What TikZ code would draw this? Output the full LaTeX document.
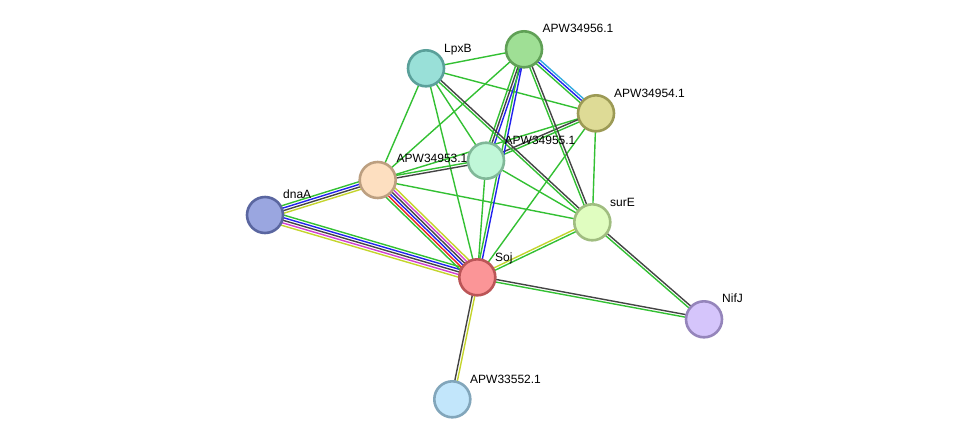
\documentclass[tikz,border=0pt]{standalone}
\usepackage{fontspec}
\setmainfont{Liberation Sans}
\usetikzlibrary{calc,backgrounds}
\definecolor{eg}{HTML}{33C033}
\definecolor{eb}{HTML}{2222EE}
\definecolor{ek}{HTML}{444444}
\definecolor{ey}{HTML}{C4D42C}
\definecolor{em}{HTML}{D040D0}
\definecolor{er}{HTML}{EE2222}
\definecolor{el}{HTML}{33AAE0}
\tikzset{
  prot/.style={circle, minimum size=36pt, inner sep=0pt, line width=2.6pt},
  lbl/.style={anchor=base west, inner sep=0pt, font=\fontsize{12}{14}\selectfont, text=black},
  edge/.style={line width=1.4pt}
}
\newcommand{\medge}[3]{%
  \foreach \c [count=\i] in {#3} {\xdef\mecount{\i}}%
  \foreach \c [count=\i] in {#3} {%
    \pgfmathsetmacro\off{((\mecount+1)/2-\i)*2.6}%
    \draw[edge, draw=\c] ($(#1.center)!\off pt!90:(#2.center)$) -- ($(#2.center)!\off pt!-90:(#1.center)$);
  }%
}
\begin{document}
\begin{tikzpicture}[x=1pt,y=-1pt]
\useasboundingbox (0,0) rectangle (976,445);
% nodes
\node[prot, fill={rgb,255:red,159;green,223;blue,149}, draw={rgb,255:red,96;green,160;blue,86}] (p56) at (524,49.3) {};
\node[prot, fill={rgb,255:red,153;green,224;blue,216}, draw={rgb,255:red,90;green,160;blue,154}] (lpxb) at (426,68.3) {};
\node[prot, fill={rgb,255:red,222;green,219;blue,150}, draw={rgb,255:red,156;green,154;blue,85}] (p54) at (596,113.3) {};
\node[prot, fill={rgb,255:red,192;green,247;blue,216}, draw={rgb,255:red,128;green,184;blue,152}] (p55) at (486,160.7) {};
\node[prot, fill={rgb,255:red,253;green,223;blue,192}, draw={rgb,255:red,188;green,159;blue,128}] (p53) at (377.7,180) {};
\node[prot, fill={rgb,255:red,154;green,166;blue,224}, draw={rgb,255:red,90;green,102;blue,160}] (dnaa) at (265,215) {};
\node[prot, fill={rgb,255:red,224;green,253;blue,192}, draw={rgb,255:red,160;green,189;blue,128}] (sure) at (592.3,222.3) {};
\node[prot, fill={rgb,255:red,251;green,149;blue,151}, draw={rgb,255:red,187;green,85;blue,87}] (soj) at (477.3,277.3) {};
\node[prot, fill={rgb,255:red,213;green,197;blue,251}, draw={rgb,255:red,149;green,133;blue,187}] (nifj) at (704,319.3) {};
\node[prot, fill={rgb,255:red,194;green,230;blue,251}, draw={rgb,255:red,130;green,166;blue,187}] (p52) at (452.3,399.3) {};
% labels
\node[lbl] (l56) at (542.5,32) {APW34956.1};
\node[lbl] (llpxb) at (444,52) {LpxB};
\node[lbl] (l54) at (614,97) {APW34954.1};
\node[lbl] (l55) at (504.5,144) {APW34955.1};
\node[lbl] (l53) at (396.5,162) {APW34953.1};
\node[lbl] (ldnaa) at (283,198) {dnaA};
\node[lbl] (lsure) at (610,206) {surE};
\node[lbl] (lsoj) at (495,261) {Soj};
\node[lbl] (lnifj) at (722,302) {NifJ};
\node[lbl] (l52) at (470,383) {APW33552.1};
% edges
\begin{scope}[on background layer]
\medge{p53}{lpxb}{eg}
\medge{p53}{p56}{eg}
\medge{p53}{p54}{eg}
\medge{p53}{sure}{eg}
\medge{lpxb}{p56}{eg}
\medge{lpxb}{p54}{eg}
\medge{lpxb}{p55}{eg}
\medge{lpxb}{soj}{eg}
\medge{p54}{sure}{eg}
\medge{p54}{soj}{eg}
\medge{p55}{soj}{eg}
\medge{p55}{sure}{eg}
\medge{p53}{p55}{eg,ek}
\medge{p54}{p55}{eg,ek}
\medge{p56}{p54}{el,eb,eg}
\medge{p56}{p55}{eb,ek,eg}
\medge{p56}{soj}{eb,eg}
\medge{lpxb}{sure}{ek,eg}
\medge{p56}{sure}{ek,eg}
\medge{sure}{soj}{eg,ey}
\medge{sure}{nifj}{ek,eg}
\medge{soj}{nifj}{ek,eg}
\medge{soj}{p52}{ey,ek}
\medge{dnaa}{p53}{eg,eb,ek,ey}
\medge{dnaa}{soj}{eg,eb,ek,em,ey}
\medge{soj}{p53}{eg,er,eb,ek,em,ey}
\end{scope}
\end{tikzpicture}
\end{document}
